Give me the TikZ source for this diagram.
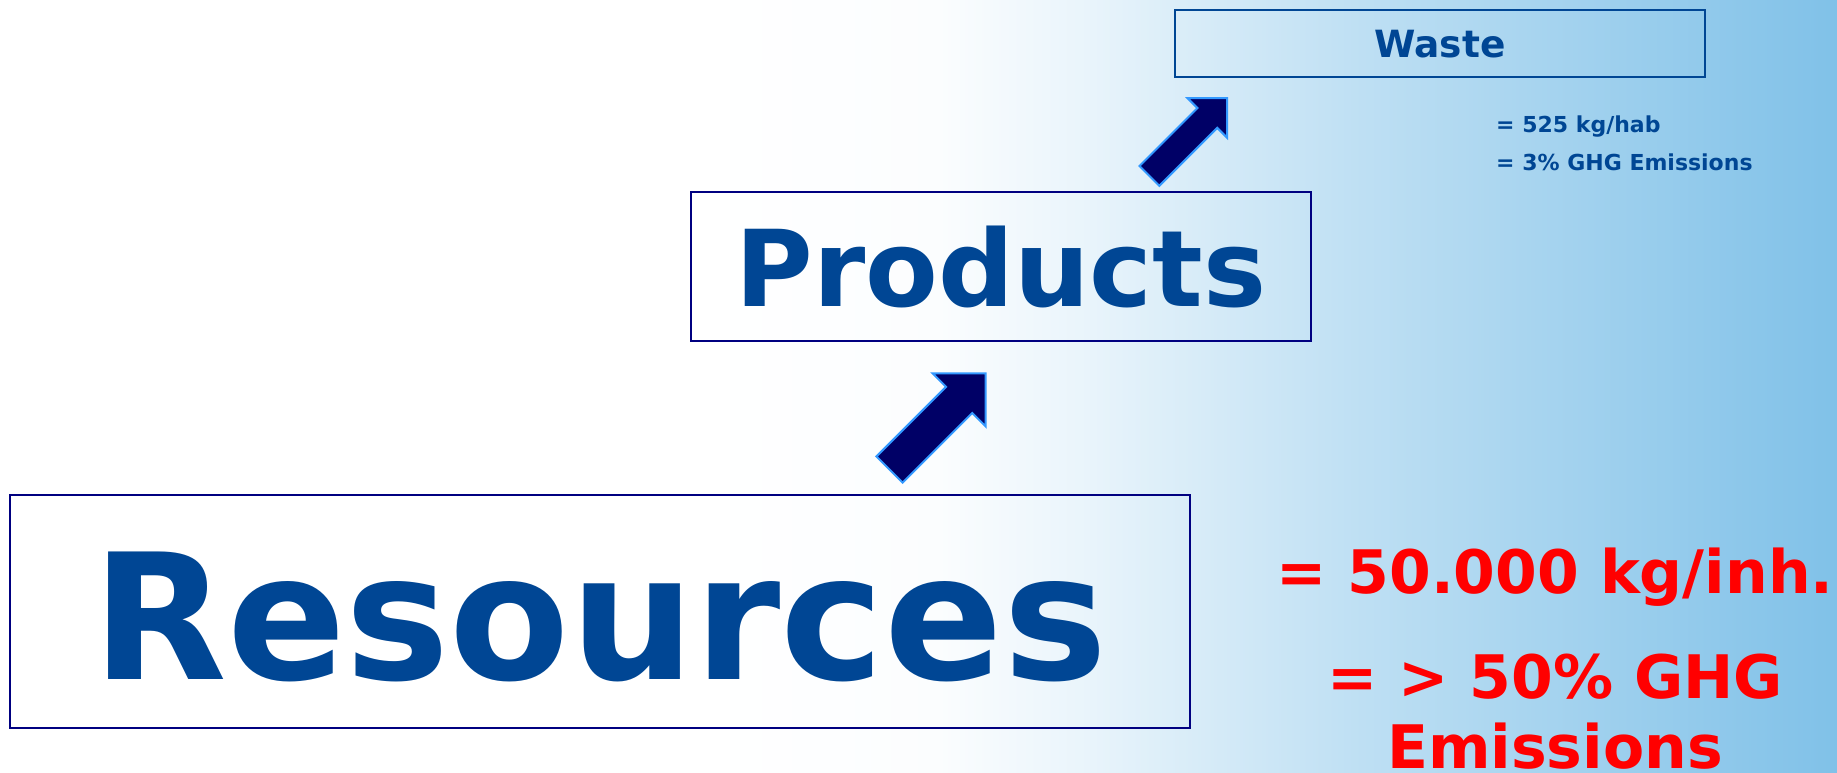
\documentclass[tikz,border=0pt]{standalone}
\usepackage{fontspec}
\setmainfont{DejaVu Sans}
\usetikzlibrary{shapes.arrows}

\definecolor{textblue}{RGB}{0,70,148}
\definecolor{boxnavy}{RGB}{0,0,128}
\definecolor{arrowfill}{RGB}{0,0,102}
\definecolor{arrowedge}{RGB}{51,153,255}
\definecolor{bgblue}{RGB}{128,193,232}

\pgfdeclarehorizontalshading{bgfade}{100bp}{color(0bp)=(white); color(44bp)=(white); color(50.5bp)=(bgblue!3!white); color(54.5bp)=(bgblue!17!white); color(61.75bp)=(bgblue!50!white); color(75bp)=(bgblue); color(100bp)=(bgblue)}

\begin{document}
\begin{tikzpicture}[x=1pt,y=-1pt]

		\tikzstyle{stage}=[rectangle,
			draw=boxnavy,line width=2pt,
			text=textblue,inner sep=0pt]
		\tikzstyle{flow}=[single arrow,
			fill=arrowfill,draw=arrowedge,line width=2pt,
			rotate=45]
		\tikzstyle{note}=[text=textblue,inner sep=0pt,anchor=base west,
			font=\bfseries\fontsize{22}{26}\selectfont]
		\tikzstyle{amount}=[text=red,inner sep=0pt,anchor=base,align=center,
			font=\bfseries\fontsize{60}{70}\selectfont]

		\shade[shading=bgfade]	(0,0) rectangle (1837,773);
		\useasboundingbox	(0,0) rectangle (1837,773);

		\node[stage,minimum width=1180pt,minimum height=233pt,text height=137pt,text depth=0pt,
			font=\bfseries\fontsize{175}{200}\selectfont]	(resources)	at (600,611)	{Resources};
		\node[stage,minimum width=620pt,minimum height=149pt,
			font=\bfseries\fontsize{106}{120}\selectfont]	(products)	at (1001,266.5)	{Products};
		\node[stage,draw=textblue,minimum width=530pt,minimum height=66.5pt,
			font=\bfseries\fontsize{37.5}{45}\selectfont]	(waste)	at (1440,43.75)	{Waste};

		\node[flow,minimum height=136pt,inner sep=17.5pt,single arrow head extend=19pt]	(toproducts)	at (931,428)	{};
		\node[flow,minimum height=110pt,inner sep=13pt,single arrow head extend=14pt]	(towaste)	at (1183.3,142)	{};

		\node[note]	(wastekg)	at (1496,133)	{= 525 kg/hab};
		\node[note]	(wasteghg)	at (1496,171)	{= 3\% GHG Emissions};

		\node[amount]	(perinh)	at (1555,593)	{= 50.000 kg/inh.};
		\node[amount]	(ghgshare)	at (1555,768)	{= > 50\% GHG\\Emissions};

	\end{tikzpicture}
\end{document}
